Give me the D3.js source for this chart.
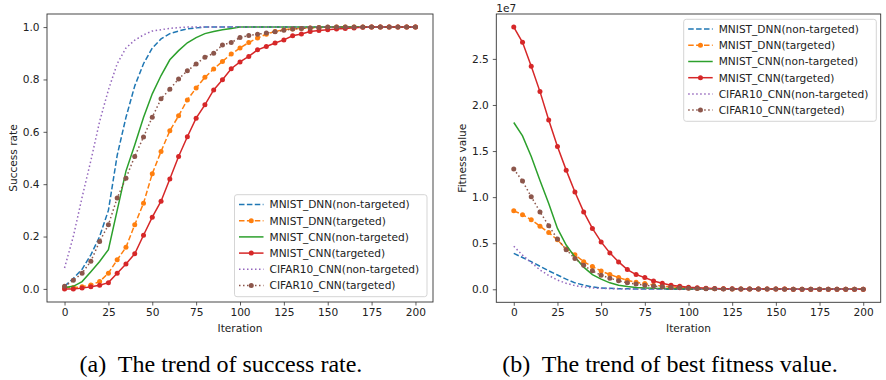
<!DOCTYPE html>
<html>
<head>
<meta charset="utf-8">
<script src="https://cdn.jsdelivr.net/npm/d3@7"></script>
<style>
  body { margin: 0; background: #fff; }
  text { font-family: "DejaVu Sans", sans-serif; fill: #222; }
  .caption { font-family: "Liberation Serif", "Times New Roman", serif; fill: #000; white-space: pre; }
</style>
</head>
<body>
<svg id="chart" width="886" height="380"></svg>
<script>
// iterations 0..200, step 5
const iterations = d3.range(0, 201, 5);

const seriesNames = [
    "MNIST_DNN(non-targeted)",
    "MNIST_DNN(targeted)",
    "MNIST_CNN(non-targeted)",
    "MNIST_CNN(targeted)",
    "CIFAR10_CNN(non-targeted)",
    "CIFAR10_CNN(targeted)"
];

// (a) success rate
const succDnnNon = [0.01, 0.04, 0.075, 0.13, 0.2, 0.3, 0.51, 0.655, 0.775, 0.86, 0.92, 0.955, 0.975, 0.985, 0.993, 0.997,
    1, 1, 1, 1, 1, 1, 1, 1, 1, 1, 1, 1, 1, 1, 1, 1, 1, 1, 1, 1, 1, 1, 1, 1, 1];
const succDnnTar = [0.005, 0.005, 0.008, 0.015, 0.028, 0.06, 0.111, 0.159, 0.245, 0.327, 0.44, 0.525, 0.604, 0.661, 0.722, 0.767,
    0.808, 0.84, 0.869, 0.897, 0.92, 0.941, 0.958, 0.973, 0.983, 0.99, 0.993, 0.995, 0.997, 0.998, 0.999,
    1, 1, 1, 1, 1, 1, 1, 1, 1, 1];
const succCnnNon = [0.005, 0.01, 0.028, 0.066, 0.105, 0.15, 0.3, 0.45, 0.55, 0.655, 0.745, 0.815, 0.875, 0.91, 0.94, 0.96,
    0.975, 0.983, 0.99, 0.995, 1, 1, 1, 1, 1, 1, 1, 1, 1, 1, 1, 1, 1, 1, 1, 1, 1, 1, 1, 1, 1];
const succCnnTar = [0.0, 0.0, 0.003, 0.008, 0.014, 0.024, 0.06, 0.095, 0.134, 0.205, 0.274, 0.335, 0.42, 0.506, 0.581, 0.652,
    0.703, 0.76, 0.799, 0.841, 0.867, 0.888, 0.913, 0.926, 0.939, 0.951, 0.967, 0.974, 0.983, 0.987, 0.99,
    0.993, 0.995, 0.997, 0.999, 1, 1, 1, 1, 1, 1];
const succCifarNon = [0.08, 0.2, 0.35, 0.49, 0.64, 0.76, 0.86, 0.92, 0.95, 0.97, 0.985, 0.99, 0.995, 0.998, 1, 1,
    1, 1, 1, 1, 1, 1, 1, 1, 1, 1, 1, 1, 1, 1, 1, 1, 1, 1, 1, 1, 1, 1, 1, 1, 1];
const succCifarTar = [0.01, 0.033, 0.06, 0.106, 0.181, 0.245, 0.347, 0.423, 0.506, 0.58, 0.656, 0.726, 0.763, 0.802, 0.833, 0.859,
    0.885, 0.9, 0.932, 0.941, 0.96, 0.968, 0.973, 0.977, 0.982, 0.988, 0.993, 0.995, 0.997, 0.998,
    1, 1, 1, 1, 1, 1, 1, 1, 1, 1, 1];

// (b) best fitness value, in units of 1e7
const fitDnnNon = [0.39, 0.345, 0.3, 0.25, 0.2, 0.155, 0.11, 0.07, 0.045, 0.025, 0.015, 0.01, 0.007, 0.005, 0.004, 0.003,
    0.002, 0.002, 0.001, 0.001, 0.001, 0.001, 0.001, 0.001, 0.001, 0.001, 0.001, 0.001, 0.001, 0.001, 0.001,
    0.001, 0.001, 0.001, 0.001, 0.001, 0.001, 0.001, 0.001, 0.001, 0.001];
const fitDnnTar = [0.851, 0.81, 0.755, 0.685, 0.615, 0.537, 0.437, 0.375, 0.3, 0.247, 0.198, 0.16, 0.127, 0.098, 0.076, 0.062,
    0.045, 0.035, 0.027, 0.02, 0.015, 0.011, 0.008, 0.006, 0.005, 0.004, 0.003, 0.003, 0.002, 0.002, 0.002,
    0.002, 0.001, 0.001, 0.001, 0.001, 0.001, 0.001, 0.001, 0.001, 0.001];
const fitCnnNon = [1.81, 1.665, 1.44, 1.18, 0.93, 0.66, 0.48, 0.35, 0.24, 0.16, 0.11, 0.07, 0.045, 0.03, 0.02, 0.015,
    0.01, 0.008, 0.006, 0.005, 0.004, 0.003, 0.003, 0.002, 0.002, 0.002, 0.001, 0.001, 0.001, 0.001, 0.001,
    0.001, 0.001, 0.001, 0.001, 0.001, 0.001, 0.001, 0.001, 0.001, 0.001];
const fitCnnTar = [2.845, 2.68, 2.42, 2.145, 1.838, 1.55, 1.293, 1.055, 0.84, 0.66, 0.514, 0.395, 0.297, 0.214, 0.16, 0.127,
    0.09, 0.065, 0.045, 0.032, 0.022, 0.016, 0.012, 0.009, 0.007, 0.005, 0.004, 0.003, 0.003, 0.002, 0.002,
    0.002, 0.001, 0.001, 0.001, 0.001, 0.001, 0.001, 0.001, 0.001, 0.001];
const fitCifarNon = [0.467, 0.37, 0.29, 0.21, 0.15, 0.1, 0.065, 0.04, 0.025, 0.015, 0.01, 0.007, 0.005, 0.004, 0.003, 0.002,
    0.002, 0.001, 0.001, 0.001, 0.001, 0.001, 0.001, 0.001, 0.001, 0.001, 0.001, 0.001, 0.001, 0.001, 0.001,
    0.001, 0.001, 0.001, 0.001, 0.001, 0.001, 0.001, 0.001, 0.001, 0.001];
const fitCifarTar = [1.305, 1.174, 1.005, 0.84, 0.69, 0.545, 0.43, 0.333, 0.26, 0.2, 0.152, 0.12, 0.093, 0.07, 0.057, 0.044,
    0.035, 0.027, 0.02, 0.016, 0.012, 0.009, 0.007, 0.005, 0.004, 0.003, 0.003, 0.002, 0.002, 0.002, 0.002,
    0.001, 0.001, 0.001, 0.001, 0.001, 0.001, 0.001, 0.001, 0.001, 0.001];

const xTicks = [0, 25, 50, 75, 100, 125, 150, 175, 200];
const succTicks = [0.0, 0.2, 0.4, 0.6, 0.8, 1.0];
const fitTicks = [0.0, 0.5, 1.0, 1.5, 2.0, 2.5];

const colors = ["#1f77b4", "#ff7f0e", "#2ca02c", "#d62728", "#9467bd", "#8c564b"];
const dashes = ["5.5,2.4", "5.5,2.4", null, null, "1.5,2.5", "1.5,2.5"];
const markers = [false, true, false, true, false, true];

const svg = d3.select("#chart");

const drawPanel = (cfg) => {
    let g = svg.append("g");

    let allVals = cfg.series.flat();
    let [lo, hi] = d3.extent(allVals);
    let pad = (hi - lo) * 0.05;

    let x = d3.scaleLinear().domain([-10, 210]).range([cfg.left, cfg.right]);
    let y = d3.scaleLinear().domain([lo - pad, hi + pad]).range([cfg.bottom, cfg.top]);

    // axes
    g.append("g")
        .attr("transform", `translate(0,${cfg.bottom})`)
        .call(d3.axisBottom(x).tickValues(xTicks).tickSize(3.5).tickPadding(3).tickFormat(d3.format("d")))
        .call(a => a.select(".domain").remove())
        .call(a => a.selectAll("line").attr("stroke", "#333").attr("stroke-width", 0.8))
        .call(a => a.selectAll("text").style("font-size", "10.6px").style("font-family", "DejaVu Sans").attr("fill", "#222"));

    g.append("g")
        .attr("transform", `translate(${cfg.left},0)`)
        .call(d3.axisLeft(y).tickValues(cfg.yTicks).tickSize(3.5).tickPadding(4).tickFormat(d3.format(".1f")))
        .call(a => a.select(".domain").remove())
        .call(a => a.selectAll("line").attr("stroke", "#333").attr("stroke-width", 0.8))
        .call(a => a.selectAll("text").style("font-size", "10.6px").style("font-family", "DejaVu Sans").attr("fill", "#222"));

    // lines
    let line = d3.line()
        .x((d, i) => x(iterations[i]))
        .y(d => y(d));

    cfg.series.forEach((vals, k) => {
        g.append("path")
            .datum(vals)
            .attr("d", line)
            .attr("fill", "none")
            .attr("stroke", colors[k])
            .attr("stroke-width", 1.5)
            .attr("stroke-dasharray", dashes[k]);
        if (markers[k]) {
            g.selectAll(null)
                .data(vals)
                .enter().append("circle")
                .attr("cx", (d, i) => x(iterations[i]))
                .attr("cy", d => y(d))
                .attr("r", 2.5)
                .attr("fill", colors[k]);
        }
    });

    // frame
    g.append("rect")
        .attr("x", cfg.left).attr("y", cfg.top)
        .attr("width", cfg.right - cfg.left).attr("height", cfg.bottom - cfg.top)
        .attr("fill", "none").attr("stroke", "#333").attr("stroke-width", 0.9);

    // labels
    g.append("text")
        .attr("x", (cfg.left + cfg.right) / 2).attr("y", 332)
        .attr("text-anchor", "middle")
        .style("font-size", "10.6px")
        .text("Iteration");

    g.append("text")
        .attr("transform", `translate(${cfg.yLabelX},${(cfg.top + cfg.bottom) / 2}) rotate(-90)`)
        .attr("text-anchor", "middle")
        .style("font-size", "10.6px")
        .text(cfg.yLabel);

    if (cfg.offset) {
        g.append("text")
            .attr("x", cfg.left).attr("y", 11.5)
            .style("font-size", "10.6px")
            .text(cfg.offset);
    }

    // legend
    let lg = g.append("g");
    lg.append("rect")
        .attr("x", cfg.legend.x).attr("y", cfg.legend.y)
        .attr("width", cfg.legend.w).attr("height", cfg.legend.h)
        .attr("rx", 2.5)
        .attr("fill", "#fff").attr("fill-opacity", 0.85)
        .attr("stroke", "#d0d0d0").attr("stroke-width", 0.9);

    seriesNames.forEach((name, k) => {
        let ly = cfg.legend.y + 9.8 + k * 16.2;
        let lx = cfg.legend.x + 4.5;
        lg.append("line")
            .attr("x1", lx).attr("x2", lx + 24.5)
            .attr("y1", ly).attr("y2", ly)
            .attr("stroke", colors[k])
            .attr("stroke-width", 1.5)
            .attr("stroke-dasharray", dashes[k]);
        if (markers[k]) {
            lg.append("circle")
                .attr("cx", lx + 12.25).attr("cy", ly)
                .attr("r", 2.5)
                .attr("fill", colors[k]);
        }
        lg.append("text")
            .attr("x", lx + 30.5).attr("y", ly + 3.9)
            .style("font-size", "10.6px")
            .text(name);
    });

    // caption
    svg.append("text")
        .attr("class", "caption")
        .attr("x", cfg.captionX).attr("y", 371.5)
        .attr("text-anchor", "middle")
        .style("font-size", "24px")
        .text(cfg.caption);
};

drawPanel({
    series: [succDnnNon, succDnnTar, succCnnNon, succCnnTar, succCifarNon, succCifarTar],
    left: 47, right: 433, top: 14, bottom: 302,
    yTicks: succTicks,
    yLabel: "Success rate",
    yLabelX: 16.5,
    legend: { x: 234.5, y: 194.7, w: 192.5, h: 102 },
    caption: "(a)  The trend of success rate.",
    captionX: 221
});

drawPanel({
    series: [fitDnnNon, fitDnnTar, fitCnnNon, fitCnnTar, fitCifarNon, fitCifarTar],
    left: 496.3, right: 880.7, top: 14, bottom: 302.3,
    yTicks: fitTicks,
    yLabel: "Fitness value",
    yLabelX: 465.5,
    offset: "1e7",
    legend: { x: 683.7, y: 19.3, w: 192.6, h: 102 },
    caption: "(b)  The trend of best fitness value.",
    captionX: 670
});
</script>
</body>
</html>
